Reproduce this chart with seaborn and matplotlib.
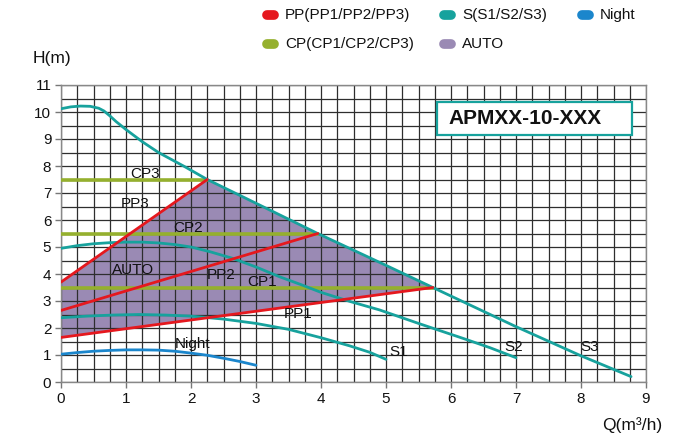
import matplotlib
matplotlib.use("Agg")
import matplotlib.pyplot as plt
from matplotlib.lines import Line2D
from matplotlib.patches import Rectangle
from matplotlib.ticker import MultipleLocator
import numpy as np
import pandas as pd
import seaborn as sns

# ---- pump curves: flow Q (m3/h) vs head H (m) ----
s3_q = [0, 0.15, 0.3, 0.45, 0.58, 0.66, 0.75, 0.85, 1.0, 1.25, 1.5, 1.9, 2.25,
        3.0, 3.95, 5.0, 5.72, 7.0, 8.0, 8.77]
s3_h = [10.12, 10.19, 10.22, 10.21, 10.14, 10.04, 9.86, 9.64, 9.35, 8.9, 8.5, 7.98, 7.5,
        6.62, 5.5, 4.32, 3.5, 2.05, 0.97, 0.2]

s2_q = [0, 0.25, 0.5, 0.75, 1.0, 1.25, 1.5, 1.75, 2.0, 2.3, 2.64, 3.0, 3.36, 3.7, 4.0,
        4.45, 4.9, 5.5, 6.18, 6.6, 7.0]
s2_h = [4.95, 5.05, 5.12, 5.16, 5.18, 5.18, 5.15, 5.09, 5.0, 4.82, 4.58, 4.26, 3.9, 3.6, 3.32,
        2.98, 2.67, 2.17, 1.62, 1.27, 0.9]

s1_q = [0, 0.4, 0.8, 1.2, 1.6, 2.0, 2.5, 3.0, 3.5, 4.0, 4.44, 4.75, 5.0]
s1_h = [2.38, 2.44, 2.48, 2.5, 2.48, 2.44, 2.33, 2.17, 1.95, 1.64, 1.34, 1.1, 0.84]

night_q = [0, 0.25, 0.5, 0.75, 1.0, 1.25, 1.5, 1.75, 2.0, 2.25, 2.5, 2.75, 3.0]
night_h = [1.03, 1.09, 1.14, 1.17, 1.19, 1.19, 1.18, 1.14, 1.07, 0.99, 0.88, 0.76, 0.62]

# proportional-pressure lines (start, end)
pp_q = {"PP1": [0, 5.72], "PP2": [0, 3.95], "PP3": [0, 2.25]}
pp_h = {"PP1": [1.65, 3.5], "PP2": [2.65, 5.5], "PP3": [3.7, 7.5]}

# constant-pressure lines
cp_q = {"CP1": [0, 5.72], "CP2": [0, 3.95], "CP3": [0, 2.25]}
cp_h = {"CP1": [3.5, 3.5], "CP2": [5.5, 5.5], "CP3": [7.5, 7.5]}

x_ticks = list(range(0, 10))
y_ticks = list(range(0, 12))

legend_labels = ["PP(PP1/PP2/PP3)", "S(S1/S2/S3)", "Night", "CP(CP1/CP2/CP3)", "AUTO"]
model_name = "APMXX-10-XXX"

# ---- colours ----
RED = "#e5181e"
TEAL = "#17a29d"
BLUE = "#1b86cc"
OLIVE = "#95b02e"
PURPLE = "#9a8ab4"
GRID = "#2e2e2e"

sns.set_theme(style="white")
plt.rcParams["font.family"] = ["Liberation Sans", "DejaVu Sans"]

fig = plt.figure(figsize=(6.93, 4.38), dpi=100)
ax = fig.add_axes([61 / 693, 1 - 382 / 438, 585 / 693, 297 / 438])

ax.set_xlim(0, 9)
ax.set_ylim(0, 11)

# AUTO region: PP3 up to S3, S3 down to PP1 end, back along PP1
s3q = np.array(s3_q)
s3h = np.array(s3_h)
mask = (s3q >= pp_q["PP3"][1]) & (s3q <= pp_q["PP1"][1])
poly_q = [pp_q["PP3"][0], pp_q["PP3"][1]] + list(s3q[mask]) + [pp_q["PP1"][1], pp_q["PP1"][0]]
poly_h = [pp_h["PP3"][0], pp_h["PP3"][1]] + list(s3h[mask]) + [pp_h["PP1"][1], pp_h["PP1"][0]]
ax.fill(poly_q, poly_h, color=PURPLE, lw=0, zorder=1)

# grid over the fill
ax.set_axisbelow(False)
ax.xaxis.set_major_locator(MultipleLocator(1))
ax.xaxis.set_minor_locator(MultipleLocator(0.25))
ax.yaxis.set_major_locator(MultipleLocator(1))
ax.yaxis.set_minor_locator(MultipleLocator(0.5))
ax.grid(which="both", color=GRID, lw=0.9, zorder=2)

lw = 2.0
# constant pressure
for k in ["CP1", "CP2", "CP3"]:
    sns.lineplot(x=cp_q[k], y=cp_h[k], ax=ax, color=OLIVE, lw=lw + 0.6, zorder=3,
                 estimator=None, sort=False)
# speed curves
for q, h in [(s1_q, s1_h), (s2_q, s2_h), (s3_q, s3_h)]:
    df = pd.DataFrame({"Q": q, "H": h})
    sns.lineplot(data=df, x="Q", y="H", ax=ax, color=TEAL, lw=lw, zorder=4,
                 estimator=None, sort=False)
# night
sns.lineplot(x=night_q, y=night_h, ax=ax, color=BLUE, lw=lw, zorder=4,
             estimator=None, sort=False)
# proportional pressure
for k in ["PP1", "PP2", "PP3"]:
    sns.lineplot(x=pp_q[k], y=pp_h[k], ax=ax, color=RED, lw=lw, zorder=5,
                 estimator=None, sort=False)

# curve labels
labels = {
    "CP3": (1.30, 7.72), "PP3": (1.14, 6.58), "CP2": (1.96, 5.72),
    "AUTO": (1.11, 4.13), "PP2": (2.47, 3.98), "CP1": (3.09, 3.72),
    "PP1": (3.65, 2.52), "Night": (2.02, 1.39), "S1": (5.19, 1.11),
    "S2": (6.96, 1.31), "S3": (8.14, 1.31),
}
for t, (x, y) in labels.items():
    ax.text(x, y, t, fontsize=11, ha="center", va="center", color="#111111", zorder=6)

# model box
ax.add_patch(Rectangle((5.78, 9.15), 3.0, 1.22, facecolor="white", edgecolor=TEAL,
                       lw=1.6, zorder=6))
ax.text(5.96, 9.76, model_name, fontsize=15, fontweight="bold", ha="left",
        va="center", color="#111111", zorder=7)

# ticks and axes
ax.set_xticks(x_ticks)
ax.set_yticks(y_ticks)
ax.tick_params(axis="both", which="major", labelsize=11, length=4, width=1,
               color="#777777", labelcolor="#111111", pad=3,
               bottom=True, left=True)
ax.tick_params(which="minor", length=0)
ax.set_xlabel("")
ax.set_ylabel("")
for s in ax.spines.values():
    s.set_color("#888888")
    s.set_linewidth(1)
    s.set_zorder(2.6)

fig.text(52 / 693, 1 - 58 / 438, "H(m)", fontsize=12.5, ha="center", va="center", color="#111111")
fig.text(632 / 693, 1 - 425 / 438, "Q(m³/h)", fontsize=12.5, ha="center", va="center", color="#111111")

# legend
legend_colors = [RED, TEAL, BLUE, OLIVE, PURPLE]
legend_pos = [(263, 15), (440, 15), (578, 15), (263, 44), (440, 44)]
for lab, col, (px, py) in zip(legend_labels, legend_colors, legend_pos):
    yy = 1 - py / 438
    fig.add_artist(Line2D([(px + 4) / 693, (px + 11) / 693], [yy, yy], color=col,
                          lw=7, solid_capstyle="round", transform=fig.transFigure))
    fig.text((px + 22) / 693, yy, lab, fontsize=11, ha="left", va="center", color="#111111")

fig.savefig("out.png", dpi=100)
